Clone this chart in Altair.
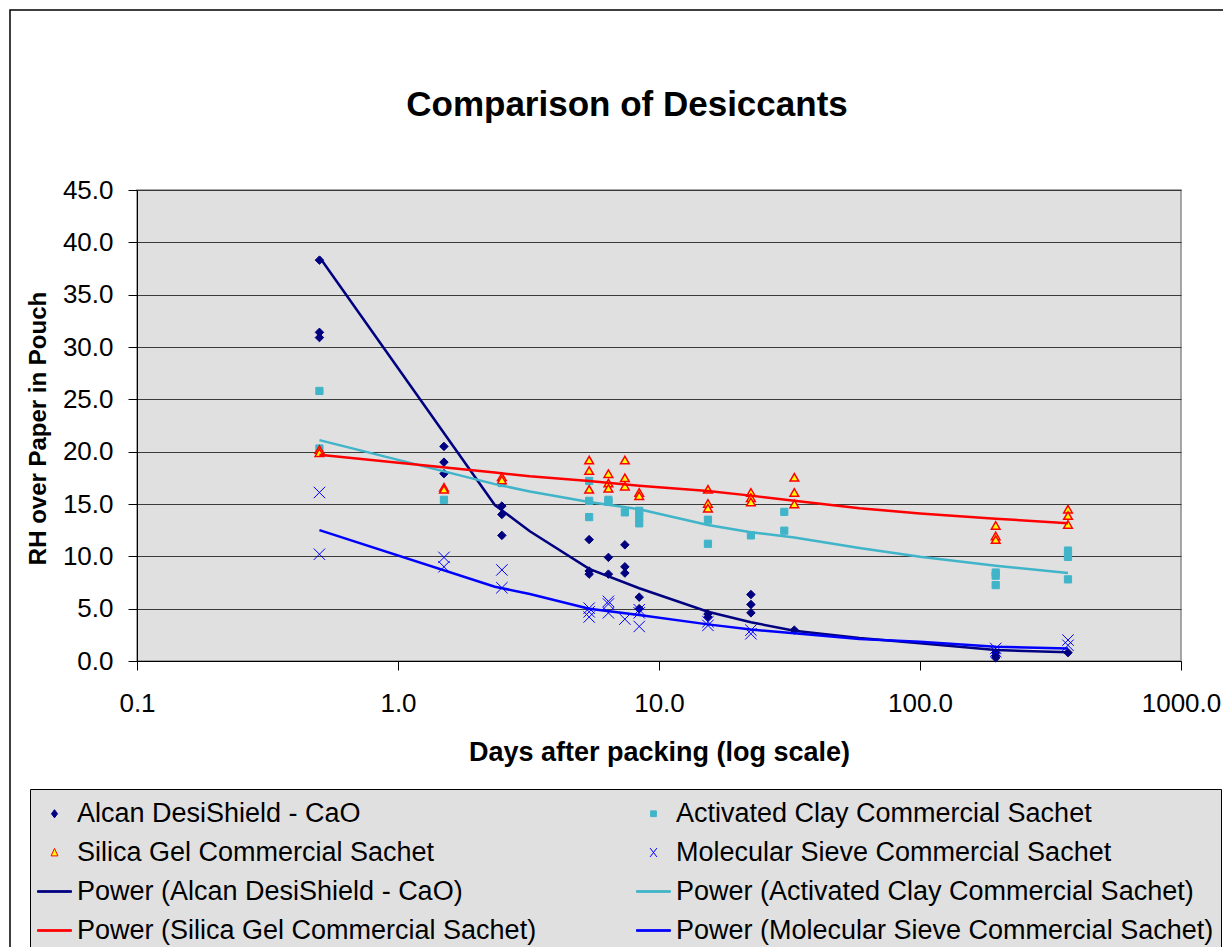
import altair as alt
import pandas as pd

# ---------------- data ----------------
ALCAN = "Alcan DesiShield - CaO"
CLAY = "Activated Clay Commercial Sachet"
SILICA = "Silica Gel Commercial Sachet"
SIEVE = "Molecular Sieve Commercial Sachet"
P_ALCAN = "Power (Alcan DesiShield - CaO)"
P_CLAY = "Power (Activated Clay Commercial Sachet)"
P_SILICA = "Power (Silica Gel Commercial Sachet)"
P_SIEVE = "Power (Molecular Sieve Commercial Sachet)"

# legend order (the legend fills its two columns top to bottom)
LEGEND_ORDER = [ALCAN, SILICA, P_ALCAN, P_SILICA, CLAY, SIEVE, P_CLAY, P_SIEVE]
LEGEND_COLORS = ["#000080", "#FF0000", "#000080", "#FF0000",
                 "#40B4C8", "#0000FF", "#40B4C8", "#0000FF"]
MARKER_SERIES = [ALCAN, CLAY, SILICA, SIEVE]
MARKER_FILLS = ["#000080", "#40B4C8", "#FFFF00", "transparent"]

ALCAN_DAYS = [0.5, 0.5, 0.5, 1.5, 1.5, 1.5, 2.5, 2.5, 2.5, 5.4, 5.4, 5.4, 6.4, 6.4,
              7.4, 7.4, 7.4, 8.4, 8.4, 15.4, 15.4, 22.5, 22.5, 22.5, 33, 195, 195, 195, 369]
ALCAN_RH = [38.3, 31.4, 30.9, 20.5, 19.0, 17.9, 14.8, 14.0, 12.0, 11.6, 8.6, 8.3, 9.9, 8.3,
            11.1, 9.0, 8.4, 6.1, 5.0, 4.5, 4.2, 6.35, 5.4, 4.6, 2.95, 0.8, 0.5, 0.3, 0.8]

CLAY_DAYS = [0.5, 0.5, 1.5, 2.5, 5.4, 5.4, 5.4, 6.4, 6.4, 7.4, 8.4, 8.4, 8.4, 15.4, 15.4,
             22.5, 30.2, 30.2, 195, 195, 195, 369, 369, 369]
CLAY_RH = [25.8, 20.3, 15.4, 17.0, 17.2, 15.3, 13.75, 15.4, 15.2, 14.2, 14.35, 13.8, 13.15,
           13.5, 11.2, 12.0, 14.25, 12.45, 8.45, 8.15, 7.25, 10.55, 9.95, 7.8]

SILICA_DAYS = [0.5, 0.5, 1.5, 1.5, 2.5, 2.5, 5.4, 5.4, 5.4, 6.4, 6.4, 6.4, 7.4, 7.4, 7.4,
               8.4, 8.4, 15.4, 15.4, 15.4, 22.5, 22.5, 22.5, 33, 33, 33, 195, 195, 195,
               369, 369, 369]
SILICA_RH = [20.2, 19.9, 16.6, 16.4, 17.6, 17.3, 19.2, 18.2, 16.4, 17.9, 17.0, 16.5, 19.2,
             17.5, 16.7, 16.1, 15.8, 16.4, 15.05, 14.6, 16.1, 15.6, 15.2, 17.55, 16.1, 15.0,
             12.95, 11.95, 11.6, 14.5, 13.9, 13.05]

SIEVE_DAYS = [0.5, 0.5, 1.5, 1.5, 2.5, 2.5, 5.4, 5.4, 5.4, 6.4, 6.4, 6.4, 7.4, 8.4, 8.4, 8.4,
              15.4, 15.4, 22.5, 22.5, 195, 195, 369, 369]
SIEVE_RH = [16.1, 10.2, 9.9, 9.0, 8.7, 7.0, 5.05, 4.7, 4.2, 5.7, 5.45, 4.6, 4.0, 4.9, 4.6, 3.3,
            3.75, 3.4, 2.95, 2.6, 1.2, 0.9, 2.0, 1.5]

TREND_DAYS = [0.5, 2.35, 3.2, 5.4, 8.4, 15.4, 22.5, 33, 58.6, 100, 195, 369]
ALCAN_TREND = [38.6, 14.9, 12.4, 8.8, 6.95, 4.7, 3.7, 2.9, 2.2, 1.7, 1.05, 0.83]
CLAY_TREND = [21.1, 16.9, 16.2, 15.2, 14.5, 13.0, 12.3, 11.8, 10.8, 9.95, 9.1, 8.4]
SILICA_TREND = [19.7, 18.0, 17.65, 17.2, 16.75, 16.25, 15.8, 15.3, 14.6, 14.1, 13.6, 13.15]
SIEVE_TREND = [12.5, 7.1, 6.4, 5.0, 4.4, 3.5, 3.0, 2.65, 2.1, 1.85, 1.37, 1.2]

Y_TICKS = [0, 5, 10, 15, 20, 25, 30, 35, 40, 45]
X_TICKS = [0.1, 1, 10, 100, 1000]

FONT = "Liberation Sans"
X_PATH = "M-1,-1L1,1M-1,1L1,-1"

# ---------------- tables ----------------
def pts(name, days, rh):
    return pd.DataFrame({"series": name, "days": days, "rh": rh})

point_sets = [
    (pts(ALCAN, ALCAN_DAYS, ALCAN_RH), "diamond", 72, 1),
    (pts(CLAY, CLAY_DAYS, CLAY_RH), "square", 52, 1),
    (pts(SILICA, SILICA_DAYS, SILICA_RH), "triangle-up", 75, 1.5),
    (pts(SIEVE, SIEVE_DAYS, SIEVE_RH), X_PATH, 130, 1),
]
trend_sets = [
    pts(P_ALCAN, TREND_DAYS, ALCAN_TREND),
    pts(P_CLAY, TREND_DAYS, CLAY_TREND),
    pts(P_SILICA, TREND_DAYS, SILICA_TREND),
    pts(P_SIEVE, TREND_DAYS, SIEVE_TREND),
]

# ---------------- encodings ----------------
x_enc = alt.X("days:Q",
              scale=alt.Scale(type="log", domain=[0.1, 1000], nice=False),
              axis=alt.Axis(values=X_TICKS, format=".1f", grid=False, tickSize=9,
                            labelPadding=20, labelFlush=False, labelFontSize=26,
                            labelColor="black", domainColor="black", tickColor="black",
                            title="Days after packing (log scale)", titleFontSize=27,
                            titleFontWeight="bold", titleColor="black",
                            titleX=522, titleY=99, titleAlign="center",
                            titleBaseline="alphabetic"))
y_enc = alt.Y("rh:Q",
              scale=alt.Scale(domain=[0, 45], nice=False),
              axis=alt.Axis(values=Y_TICKS, format=".1f", grid=True, gridColor="#3a3a3a",
                            gridWidth=1, tickSize=9, labelPadding=15, labelFontSize=26,
                            labelColor="black", domainColor="black", tickColor="black",
                            title="RH over Paper in Pouch", titleFontSize=24,
                            titleFontWeight="bold", titleColor="black",
                            titleX=-99, titleY=238, titleAngle=270, titleAlign="center",
                            titleBaseline="middle"))

LINE_PATH = "'M-1,-0.05H1V0.05H-1Z'"
LEG_SHAPES = ("['M-0.18,0L0,-0.24L0.18,0L0,0.24Z',"
              "'M-0.2,0.2H0.2L0,-0.24Z',"
              f"{LINE_PATH},{LINE_PATH},"
              "'M-0.17,-0.17H0.17V0.17H-0.17Z',"
              "'M-0.2,-0.26L0.2,0.26M-0.2,0.26L0.2,-0.26',"
              f"{LINE_PATH},{LINE_PATH}]")
LEG_FILLS = "['#000080','#FFFF00','#000080','#FF0000','#40B4C8','transparent','#40B4C8','#0000FF']"

legend = alt.Legend(
    title=None, orient="none", legendX=-107, legendY=599, columns=2,
    columnPadding=97, rowPadding=8, padding=7, symbolSize=1156,
    symbolType=alt.ExprRef(expr=f"{LEG_SHAPES}[datum.index]"),
    symbolFillColor=alt.ExprRef(expr=f"{LEG_FILLS}[datum.index]"),
    symbolStrokeWidth=1, symbolOpacity=1,
    labelFontSize=27, labelColor="black", labelFont=FONT,
    labelOffset=5, labelLimit=0, fillColor="#E0E0E0", strokeColor="black",
    cornerRadius=0, offset=0,
)
stroke_enc = alt.Stroke("series:N", scale=alt.Scale(domain=LEGEND_ORDER, range=LEGEND_COLORS),
                        legend=legend)
fill_enc = alt.Fill("series:N", scale=alt.Scale(domain=MARKER_SERIES, range=MARKER_FILLS),
                    legend=None)

layers = []

# outer frame of the figure (decoration)
layers.append(
    alt.Chart(alt.Data(values=[{}])).mark_rect(fill="transparent", stroke="black", strokeWidth=1.5)
    .encode(x=alt.value(-127), y=alt.value(-180), x2=alt.value(1120), y2=alt.value(900))
)

for df, shape, size, sw in point_sets:
    layers.append(
        alt.Chart(df).mark_point(filled=True, opacity=1, shape=shape, size=size)
        .encode(x=x_enc, y=y_enc, stroke=stroke_enc, fill=fill_enc,
                strokeWidth=alt.value(sw))
    )

for df in trend_sets:
    layers.append(
        alt.Chart(df).mark_line()
        .encode(x=x_enc, y=y_enc, stroke=stroke_enc, strokeWidth=alt.value(2.5))
    )

# chart title
layers.append(
    alt.Chart(alt.Data(values=[{}])).mark_text(
        text="Comparison of Desiccants", fontSize=35, fontWeight="bold", font=FONT,
        align="center", baseline="alphabetic", color="black")
    .encode(x=alt.value(490), y=alt.value(-74))
)

chart = alt.layer(*layers).properties(
    width=1044, height=471,
    padding={"left": 129, "top": 182, "right": 42, "bottom": 286},
    autosize=alt.AutoSizeParams(type="none"),
    background="white",
).configure(font=FONT).configure_view(
    fill="#E0E0E0", stroke="#8C8C8C", strokeWidth=1.5
).configure_axis(labelFont=FONT, titleFont=FONT)

chart.save("out.html", embed_options={"renderer": "svg", "actions": False})
